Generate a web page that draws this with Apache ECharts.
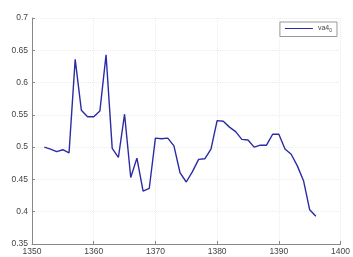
<!DOCTYPE html>
<html>
<head>
<meta charset="utf-8">
<script src="https://cdn.jsdelivr.net/npm/echarts@6/dist/echarts.min.js"></script>
<style>
  html, body { margin: 0; padding: 0; background: #fff; }
  #main { width: 353px; height: 257px; }
</style>
</head>
<body>
<div id="main"></div>
<script>
var years = [1352,1353,1354,1355,1356,1357,1358,1359,1360,1361,1362,1363,1364,1365,1366,1367,1368,1369,1370,1371,1372,1373,1374,1375,1376,1377,1378,1379,1380,1381,1382,1383,1384,1385,1386,1387,1388,1389,1390,1391,1392,1393,1394,1395,1396];
var va4 = [0.500,0.497,0.493,0.496,0.491,0.636,0.557,0.547,0.547,0.556,0.643,0.498,0.484,0.551,0.453,0.483,0.432,0.436,0.514,0.513,0.514,0.502,0.460,0.446,0.462,0.481,0.482,0.497,0.541,0.540,0.531,0.524,0.512,0.511,0.500,0.503,0.503,0.520,0.520,0.497,0.489,0.471,0.448,0.403,0.393];
var xTicks = [1350, 1400, 10];
var yTicks = [0.35, 0.7, 0.05];

var chartDom = document.getElementById('main');
var myChart = echarts.init(chartDom);
var option;

var points = years.map(function (y, i) { return [y, va4[i]]; });

option = {
  animation: false,
  grid: {
    left: 32,
    right: 11,
    top: 18,
    bottom: 13
  },
  legend: {
    right: 16,
    top: 22,
    itemWidth: 28,
    itemHeight: 8,
    itemGap: 4,
    padding: [3, 5, 3, 5],
    borderColor: '#999',
    borderWidth: 1,
    backgroundColor: '#fff',
    borderRadius: 0,
    icon: 'path://M0,4 L28,4 L28,5 L0,5 Z',
    data: ['va4'],
    formatter: function () { return '{a|va4}{b|0}'; },
    textStyle: {
      rich: {
        a: { fontSize: 7, color: '#444', fontFamily: 'Liberation Sans' },
        b: { fontSize: 5, color: '#444', fontFamily: 'Liberation Sans', verticalAlign: 'bottom', padding: [5, 0, 0, 0] }
      }
    }
  },
  xAxis: {
    type: 'value',
    min: xTicks[0],
    max: xTicks[1],
    interval: xTicks[2],
    axisLine: { show: true, lineStyle: { color: '#888', width: 1 } },
    axisTick: { show: true, length: 3, inside: true, lineStyle: { color: '#888' } },
    axisLabel: {
      color: '#444', fontSize: 8.5, margin: 3, fontFamily: 'Liberation Sans',
      formatter: function (v) { return String(v); }
    },
    splitLine: { show: true, lineStyle: { color: '#ececec', type: 'dotted' } }
  },
  yAxis: {
    type: 'value',
    min: yTicks[0],
    max: yTicks[1],
    interval: yTicks[2],
    axisLine: { show: true, lineStyle: { color: '#888', width: 1 } },
    axisTick: { show: true, length: 3, inside: true, lineStyle: { color: '#888' } },
    axisLabel: {
      color: '#444', fontSize: 8.5, margin: 4, fontFamily: 'Liberation Sans',
      formatter: function (v) { return String(+v.toFixed(2)); }
    },
    splitLine: { show: true, lineStyle: { color: '#ececec', type: 'dotted' } }
  },
  series: [
    {
      name: 'va4',
      type: 'line',
      data: points,
      showSymbol: false,
      symbol: 'none',
      color: '#2b2ba6',
      lineStyle: { color: '#2b2ba6', width: 1.4 }
    }
  ]
};

option && myChart.setOption(option);
window.addEventListener("resize", function() {
    myChart.resize();
  });
</script>
</body>
</html>
